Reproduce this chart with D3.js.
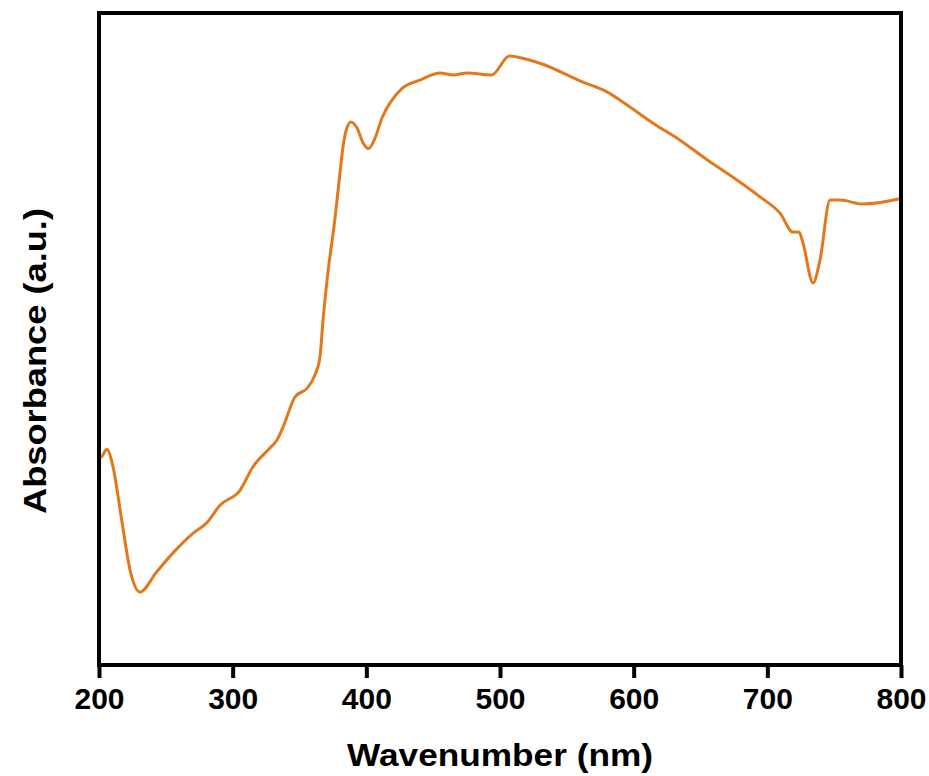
<!DOCTYPE html>
<html>
<head>
<meta charset="utf-8">
<script src="https://cdn.jsdelivr.net/npm/d3@7"></script>
<style>
  body { margin: 0; background: #fff; }
  text { font-family: "Liberation Sans", Arial, sans-serif; font-weight: bold; fill: #000; }
</style>
</head>
<body>
<div id="chart"></div>
<script>
// Wavelength (nm)
const wavelength = [200, 201.5, 205.8, 210.5, 217.0, 223.2, 230.7, 243.2, 255.4, 270.3, 280.6, 290.5,
  305.5, 315.2, 327.9, 333.2, 337.7, 346.6, 356.4, 361.6, 365.3, 367.6, 370.6, 376.6, 380.3,
  382.5, 385.5, 388.5, 393.0, 397.5, 401.5, 406.5, 411.7, 417.7, 426.5, 440.1, 455.1, 465.1,
  475.1, 493.8, 507.0, 520.0, 529.9, 562.1, 580.0, 595.0, 614.5, 634.7, 654.9, 674.3, 694.5,
  709.5, 719.2, 723.7, 726.7, 734.2, 739.4, 746.9, 754.4, 771.6, 799.3];

// Absorbance (a.u.), arbitrary 0-100 scale
const absorbance = [32.2, 31.9, 33.1, 30.4, 22.2, 14.6, 11.2, 14.3, 17.2, 20.2, 21.8, 24.5,
  26.8, 30.4, 33.3, 34.5, 36.5, 41.1, 42.6, 44.5, 47.2, 52.9, 59.0, 68.6, 75.5,
  79.4, 82.4, 83.3, 82.4, 80.1, 79.2, 80.8, 83.9, 86.2, 88.4, 89.7, 90.8, 90.5,
  90.8, 90.5, 93.4, 92.9, 92.3, 89.4, 87.9, 85.9, 83.1, 80.5, 77.5, 74.8, 71.8,
  69.3, 66.4, 66.4, 64.7, 58.6, 62.1, 71.3, 71.3, 70.7, 71.5];

const xTicks = [200, 300, 400, 500, 600, 700, 800];

const W = 929, H = 776;
const margin = { top: 13, right: 28, bottom: 111, left: 99 };
const width = W - margin.left - margin.right;
const height = H - margin.top - margin.bottom;

const x = d3.scaleLinear().domain([200, 800]).range([0, width]);
const y = d3.scaleLinear().domain([0, 100]).range([height, 0]);

const svg = d3.select('#chart')
    .append('svg')
    .attr('width', W)
    .attr('height', H);

const g = svg.append('g')
    .attr('transform', `translate(${margin.left},${margin.top})`);

// Curve
const data = wavelength.map((w, i) => ({ w: w, a: absorbance[i] }));
const line = d3.line()
    .x(d => x(d.w))
    .y(d => y(d.a))
    .curve(d3.curveMonotoneX);

g.append('path')
    .datum(data)
    .attr('fill', 'none')
    .attr('stroke', '#E2781C')
    .attr('stroke-width', 3)
    .attr('stroke-linejoin', 'round')
    .attr('d', line);

// Bottom axis
const xAxis = g.append('g')
    .attr('transform', `translate(0,${height})`)
    .call(d3.axisBottom(x).tickValues(xTicks).tickSize(13).tickPadding(10).tickFormat(d3.format('d')));
xAxis.select('.domain').remove();
xAxis.selectAll('line').attr('stroke', '#000').attr('stroke-width', 4);
xAxis.selectAll('text')
    .attr('font-size', 30)
    .attr('font-family', '"Liberation Sans", Arial, sans-serif')
    .attr('font-weight', 'bold');

// Frame
g.append('rect')
    .attr('width', width)
    .attr('height', height)
    .attr('fill', 'none')
    .attr('stroke', '#000')
    .attr('stroke-width', 4);

// Axis titles
svg.append('text')
    .attr('x', margin.left + width / 2)
    .attr('y', 766)
    .attr('text-anchor', 'middle')
    .attr('font-size', 32)
    .attr('textLength', 306)
    .attr('lengthAdjust', 'spacingAndGlyphs')
    .text('Wavenumber (nm)');

svg.append('text')
    .attr('transform', 'translate(46,361) rotate(-90)')
    .attr('text-anchor', 'middle')
    .attr('font-size', 32)
    .attr('textLength', 306)
    .attr('lengthAdjust', 'spacingAndGlyphs')
    .text('Absorbance (a.u.)');
</script>
</body>
</html>
